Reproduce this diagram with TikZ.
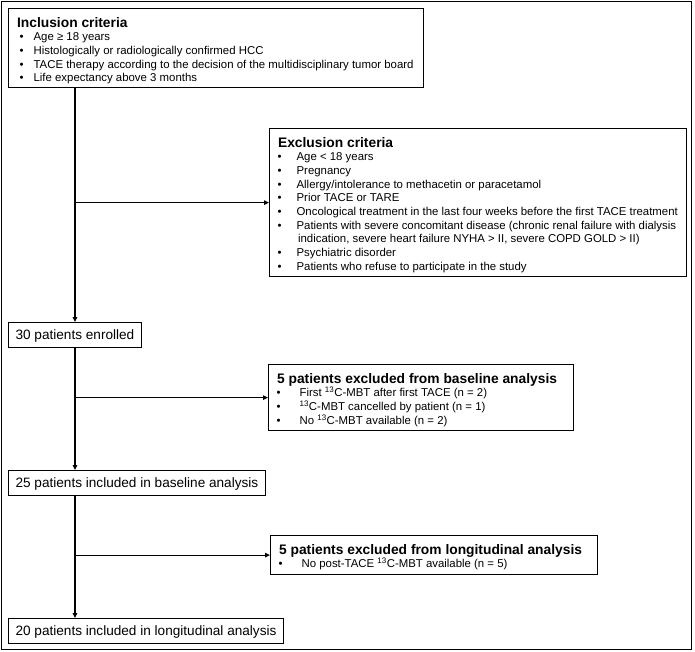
\documentclass[tikz,border=0pt]{standalone}
\usepackage{fontspec}
\setmainfont{Liberation Sans}
\usetikzlibrary{arrows.meta}
\newcommand{\bodyfont}{\fontsize{11.4pt}{13.7pt}\selectfont}
\newcommand{\headfont}{\fontsize{13.8pt}{16pt}\selectfont\bfseries}
\newcommand{\bitem}[3]{\hspace*{#1}\makebox[0pt]{\textbullet}\hspace*{#2}\mbox{#3}}
\newcommand{\boxhead}[1]{\rule{0pt}{19pt}\hspace*{8.5pt}\mbox{\headfont #1}\\[-0.7pt]}
\tikzset{
  box/.style={draw, line width=1.2pt, inner sep=0pt, anchor=north west},
  numbox/.style={draw, line width=1.2pt, inner xsep=7pt, inner ysep=0pt,
    text height=17pt, text depth=8pt, font=\fontsize{13.6pt}{16pt}\selectfont, anchor=north west},
  arr/.style={line width=1.1pt, -{Triangle[length=5pt,width=4.5pt]}}
}
\begin{document}
\begin{tikzpicture}[x=1pt,y=-1pt]
\useasboundingbox (0,0) rectangle (695,651);
\draw[line width=1pt] (1,1) rectangle (691.5,649.5);

\node[box] (incl) at (8,8) {\parbox[c][79pt][t]{415pt}{\bodyfont
\boxhead{Inclusion criteria}
\bitem{13pt}{12pt}{Age ≥ 18 years}\\
\bitem{13pt}{12pt}{Histologically or radiologically confirmed HCC}\\
\bitem{13pt}{12pt}{TACE therapy according to the decision of the multidisciplinary tumor board}\\
\bitem{13pt}{12pt}{Life expectancy above 3 months}}};

\node[box] (excl) at (269,128) {\parbox[c][148pt][t]{417pt}{\bodyfont
\boxhead{Exclusion criteria}
\bitem{10pt}{17pt}{Age < 18 years}\\
\bitem{10pt}{17pt}{Pregnancy}\\
\bitem{10pt}{17pt}{Allergy/intolerance to methacetin or paracetamol}\\
\bitem{10pt}{17pt}{Prior TACE or TARE}\\
\bitem{10pt}{17pt}{Oncological treatment in the last four weeks before the first TACE treatment}\\
\bitem{10pt}{17pt}{Patients with severe concomitant disease (chronic renal failure with dialysis}\\
\hspace*{28.5pt}\mbox{indication, severe heart failure NYHA > II, severe COPD GOLD > II)}\\
\bitem{10pt}{17pt}{Psychiatric disorder}\\
\bitem{10pt}{17pt}{Patients who refuse to participate in the study}}};

\node[numbox] (n30) at (8,322) {30 patients enrolled};

\node[box] (base) at (268,364) {\parbox[c][66pt][t]{305pt}{\bodyfont
\boxhead{5 patients excluded from baseline analysis}
\bitem{10pt}{21pt}{First \textsuperscript{13}C-MBT after first TACE (n = 2)}\\
\bitem{10pt}{21pt}{\textsuperscript{13}C-MBT cancelled by patient (n = 1)}\\
\bitem{10pt}{21pt}{No \textsuperscript{13}C-MBT available (n = 2)}}};

\node[numbox] (n25) at (8,470) {25 patients included in baseline analysis};

\node[box] (long) at (270,535) {\parbox[c][39pt][t]{327pt}{\bodyfont
\boxhead{5 patients excluded from longitudinal analysis}
\bitem{10pt}{21pt}{No post-TACE \textsuperscript{13}C-MBT available (n = 5)}}};

\node[numbox] (n20) at (8,618) {20 patients included in longitudinal analysis};

\draw[arr] (incl.south -| n30.north) -- (n30.north);
\draw[arr] (excl.west -| n30.north) -- (excl.west);
\draw[arr] (n30.south) -- (n30.south |- n25.north);
\draw[arr] (base.west -| n30.south) -- (base.west);
\draw[arr] (n30.south |- n25.south) -- (n30.south |- n20.north);
\draw[arr] (long.west -| n30.south) -- (long.west);
\end{tikzpicture}
\end{document}
